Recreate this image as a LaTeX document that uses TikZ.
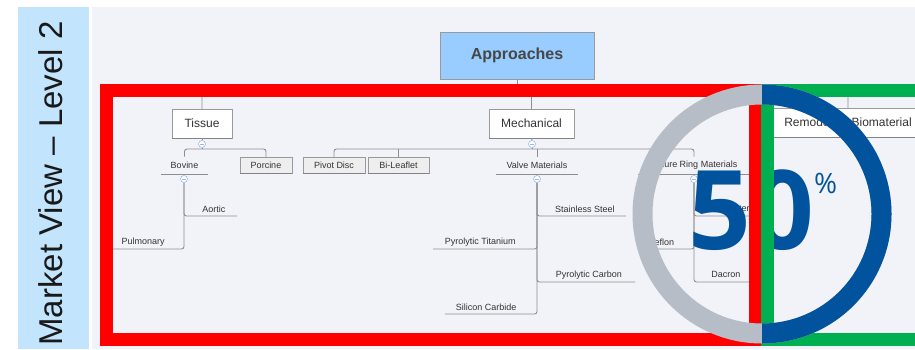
\documentclass[tikz,border=0pt]{standalone}
\usepackage{fontspec}
\setmainfont{Liberation Sans}
\newfontfamily\bignum{Open Sans}
\usetikzlibrary{calc}

\definecolor{panelblue}{HTML}{C2E4FD}
\definecolor{canvas}{HTML}{F2F3F8}
\definecolor{linegray}{HTML}{8E8E8E}
\definecolor{boxgray}{HTML}{9A9A9A}
\definecolor{rootblue}{HTML}{99CCFF}
\definecolor{leafbox}{HTML}{EEEEEE}
\definecolor{markblue}{HTML}{9DB9EC}
\definecolor{bandred}{HTML}{FF0000}
\definecolor{bandgreen}{HTML}{00B050}
\definecolor{ringgray}{HTML}{B7BDC7}
\definecolor{ringblue}{HTML}{00539C}
\definecolor{ink}{HTML}{333333}

\tikzset{
  conn/.style={draw=linegray, line width=0.9pt, rounded corners=2.5pt},
  rootbox/.style={draw=boxgray, fill=rootblue, text=ink!90, inner sep=0pt,
    font=\bfseries\fontsize{16}{18}\selectfont, minimum width=154pt, minimum height=47pt},
  topbox/.style={draw=boxgray, fill=white, text=ink, inner sep=0pt,
    font=\fontsize{12}{14}\selectfont, minimum height=29pt},
  smallbox/.style={draw=boxgray, fill=leafbox, text=ink, inner sep=0pt,
    font=\fontsize{9}{11}\selectfont, minimum height=16pt},
  grouplabel/.style={text=ink, inner sep=0pt, font=\fontsize{9}{11}\selectfont,
    minimum height=17pt, anchor=south},
  leaf/.style={text=ink, inner sep=0pt, font=\fontsize{9}{11}\selectfont, minimum height=14pt},
  marker/.style={circle, draw=markblue, fill=white, minimum size=7pt, inner sep=0pt,
    line width=0.6pt,
    path picture={\draw[markblue, line width=0.6pt]
      ([xshift=-1.8pt]path picture bounding box.center) --
      ([xshift=1.8pt]path picture bounding box.center);}},
  band/.style={line width=13pt},
  ring/.style={line width=20pt}
}

\begin{document}
\begin{tikzpicture}[x=1pt,y=-1pt]
\useasboundingbox (0,0) rectangle (915,350);
\clip (0,0) rectangle (915,350);
\fill[white] (0,0) rectangle (915,350);

% side panel and canvas
\fill[panelblue] (18,7) rectangle (89,349);
\fill[canvas] (92,7) rectangle (915,349);
\node[rotate=90, anchor=base, inner sep=0pt, text=black!90,
      font=\fontsize{33}{33}\selectfont] (title) at (62,183.5) {Market View – Level 2};

% ---- tree: first levels
\node[rootbox] (appr) at (517,55.5) {Approaches};
\node[topbox, minimum width=60pt] (tissue) at (202,123.5) {Tissue};
\node[topbox, minimum width=85pt] (mech) at (531.5,123.5) {Mechanical};
\node[topbox, minimum width=156pt] (remod) at (848,123) {Remodeling Biomaterial};
\foreach \n in {tissue,mech,remod}
  \draw[boxgray!85!black, line width=1.3pt] (\n.south west) -- (\n.south east);

\coordinate (bus) at (517,91);
\draw[conn] (appr.south) -- (bus);
\draw[conn] (tissue.north) |- (bus);
\draw[conn] (mech.north) |- (bus);
\draw[conn] (remod.north) |- (bus);

% ---- Tissue branch
\node[marker] (tmark) at (202,144) {};
\draw[conn] (tissue.south) -- (tmark.north);
\node[grouplabel, minimum width=47pt] (bovine) at (184.5,174) {Bovine};
\draw[linegray, line width=0.9pt] (bovine.south west) -- (bovine.south east);
\node[smallbox, minimum width=52pt] (porcine) at (266,165) {Porcine};
\coordinate (tbus) at (202,149);
\draw[conn] (tmark.south) -- (tbus);
\draw[conn] (bovine.north) |- (tbus) -| (porcine.north);
\node[marker] (bmark) at (184,179) {};
\node[leaf, minimum width=46pt, anchor=south east] (aortic) at (237,216) {Aortic};
\node[leaf, minimum width=66pt, anchor=south west] (pulm) at (110,249) {Pulmonary};
\draw[conn] (bmark.south) |- (aortic.south east);
\draw[conn] (bmark.south) |- (pulm.south west);

% ---- Mechanical branch
\node[marker] (mmark) at (532,144) {};
\draw[conn] (mech.south) -- (mmark.north);
\node[smallbox, minimum width=62pt] (pivot) at (334,165) {Pivot Disc};
\node[smallbox, minimum width=61pt] (bileaf) at (398.5,165) {Bi-Leaflet};
\node[grouplabel, minimum width=82pt] (valve) at (537,174) {Valve Materials};
\node[grouplabel, minimum width=112pt] (suture) at (694,174) {Suture Ring Materials};
\draw[linegray, line width=0.9pt] (valve.south west) -- (valve.south east);
\draw[linegray, line width=0.9pt] (suture.south west) -- (suture.south east);
\foreach \n in {porcine,pivot,bileaf}
  \draw[boxgray!85!black, line width=1.1pt] (\n.south west) -- (\n.south east);
\coordinate (mbus) at (537,149);
\draw[conn] (mmark.south) -- (mmark.south |- mbus);
\draw[conn] (pivot.north) |- (mbus) -| (suture.north);
\draw[conn] (bileaf.north) -- (bileaf.north |- mbus);
\draw[conn] (valve.north) -- (mbus);

% valve materials
\node[marker] (vmark) at (537,179) {};
\node[leaf, minimum width=82pt, anchor=south east] (steel) at (626,216) {Stainless Steel};
\node[leaf, minimum width=94pt, anchor=south west] (pyti) at (433,249) {Pyrolytic Titanium};
\node[leaf, minimum width=92pt, anchor=south east] (pyc) at (635,282) {Pyrolytic Carbon};
\node[leaf, minimum width=82pt, anchor=south west] (sic) at (445,314) {Silicon Carbide};
\draw[conn] (vmark.south) |- (steel.south east);
\draw[conn] (vmark.south) |- (pyti.south west);
\draw[conn] (vmark.south) |- (pyc.south east);
\draw[conn] (vmark.south) |- (sic.south west);

% suture ring materials
\node[marker] (smark) at (694,179) {};
\node[leaf, minimum width=58pt, anchor=south east] (poly) at (760,216) {Polyester};
\node[leaf, minimum width=34pt, anchor=south west] (teflon) at (645,249) {Teflon};
\node[leaf, minimum width=64pt, anchor=south east] (dacron) at (758,282) {Dacron};
\draw[conn] (smark.south) |- (poly.south east);
\draw[conn] (smark.south) |- (teflon.south west);
\draw[conn] (smark.south) |- (dacron.south east);

% ---- share figure
\node[text=ringblue, inner sep=0pt, anchor=base,
      font=\bignum\bfseries\fontsize{110}{110}\selectfont] (fifty) at (751.5,249) {50};
\node[text=ringblue, inner sep=0pt, anchor=base west,
      font=\bignum\fontsize{28}{28}\selectfont] (pct) at (814,193) {\%};

% ---- segment frames
\draw[bandred, band] (106.5,90.5) rectangle (755,339.5);
\draw[bandgreen, band] (930,90.5) -- (767.5,90.5) -- (767.5,339.5) -- (930,339.5);

% ---- 50 % ring
\coordinate (ringc) at (762,214);
\draw[ringgray, ring] (ringc) circle[radius=119.5pt];
\begin{scope}
  \clip (762,0) rectangle (915,350);
  \draw[ringblue, ring] (ringc) circle[radius=119.5pt];
\end{scope}
\end{tikzpicture}
\end{document}
